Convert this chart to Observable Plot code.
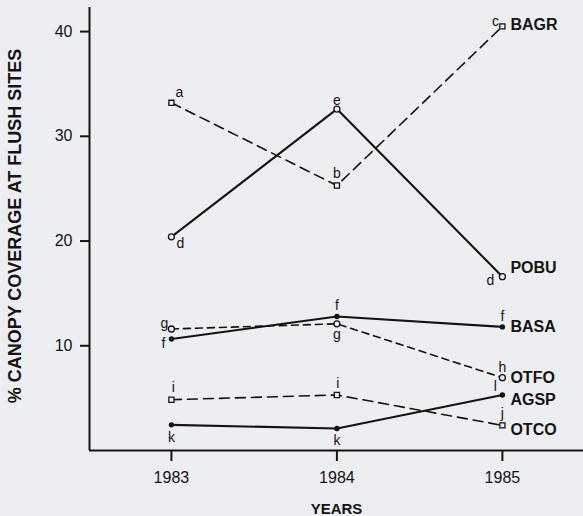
<!DOCTYPE html>
<html><head><meta charset="utf-8">
<script src="https://cdn.jsdelivr.net/npm/d3@7"></script>
<script src="https://cdn.jsdelivr.net/npm/@observablehq/plot@0.6"></script>
<style>html,body{margin:0;padding:0;background:#edeef2;} svg{display:block}</style>
</head><body><div id="chart"></div>
<script>
// ---- data ----
const years = [1983, 1984, 1985];
const BAGR = [33.2, 25.3, 40.5];
const POBU = [20.4, 32.6, 16.6];
const BASA = [10.65, 12.8, 11.8];
const OTFO = [11.6, 12.1, 6.95];
const OTCO = [4.85, 5.3, 2.4];
const AGSP = [2.45, 2.1, 5.3];
const lettersBAGR = ["a", "b", "c"];
const lettersPOBU = ["d", "e", "d"];
const lettersBASA = ["f", "f", "f"];
const lettersOTFO = ["g", "g", "h"];
const lettersOTCO = ["i", "i", "j"];
const lettersAGSP = ["k", "k", "l"];
const seriesNames = ["BAGR", "POBU", "BASA", "OTFO", "OTCO", "AGSP"];
const yTicks = [10, 20, 30, 40];
const yTitle = "% CANOPY COVERAGE AT FLUSH SITES";
const xTitle = "YEARS";

const seriesValues = [BAGR, POBU, BASA, OTFO, OTCO, AGSP];
const seriesLetters = [lettersBAGR, lettersPOBU, lettersBASA, lettersOTFO, lettersOTCO, lettersAGSP];

// ---- styles ----
const bg = "#edeef2";
const ink = "#141414";
const font = "'Liberation Sans', Arial, Helvetica, sans-serif";
const seriesStyle = {
  BAGR: {dash: "10,6", marker: "square", width: 1.6},
  POBU: {dash: null, marker: "open", width: 2.1},
  BASA: {dash: null, marker: "filled", width: 2.1},
  OTFO: {dash: "7,5", marker: "open", width: 1.6},
  OTCO: {dash: "10,6", marker: "square", width: 1.6},
  AGSP: {dash: null, marker: "filled", width: 2.1}
};
const letterOffsets = {
  BAGR: [[8, -10], [0, -12], [-7, -5]],
  POBU: [[9, 7], [0, -9], [-12, 4]],
  BASA: [[-8, 5], [0, -11], [0, -10]],
  OTFO: [[-7, -5], [0, 11], [0, -10]],
  OTCO: [[2, -12], [1, -11], [0, -12]],
  AGSP: [[0, 13], [0, 12], [-7, -8]]
};
const nameDy = {BAGR: -1, POBU: -9, BASA: 0, OTFO: 0, AGSP: 5, OTCO: 5};

const rows = [];
seriesNames.forEach((s, i) => years.forEach((yr, j) =>
  rows.push({series: s, year: yr, value: seriesValues[i][j], letter: seriesLetters[i][j], off: letterOffsets[s][j]})));

const marks = [];
// frame lines
marks.push(Plot.ruleY([0], {stroke: ink, strokeWidth: 2}));
marks.push(Plot.ruleX([1982.505], {stroke: ink, strokeWidth: 2}));
// axes
marks.push(Plot.axisY({ticks: yTicks, tickSize: 9, tickPadding: 8, fontSize: 16, stroke: ink, strokeWidth: 2, fill: ink, label: null}));
marks.push(Plot.axisX({ticks: years, tickFormat: d => String(d), tickSize: 11, tickPadding: 10, fontSize: 16, stroke: ink, strokeWidth: 2, fill: ink, label: null}));
// titles
marks.push(Plot.text([yTitle], {frameAnchor: "left", textAnchor: "middle", rotate: -90, dx: -74, dy: -3, fontSize: 18, fontWeight: "bold", fill: ink}));
marks.push(Plot.text([xTitle], {frameAnchor: "bottom", dy: 63, fontSize: 15, fontWeight: "bold", fill: ink}));

seriesNames.forEach(s => {
  const st = seriesStyle[s];
  const data = rows.filter(r => r.series === s);
  marks.push(Plot.line(data, {x: "year", y: "value", stroke: ink, strokeWidth: st.width, strokeDasharray: st.dash}));
  if (st.marker === "square") marks.push(Plot.dot(data, {x: "year", y: "value", symbol: "square", r: 2.9, fill: bg, stroke: ink, strokeWidth: 1.3}));
  else if (st.marker === "open") marks.push(Plot.dot(data, {x: "year", y: "value", r: 3, fill: bg, stroke: ink, strokeWidth: 1.3}));
  else marks.push(Plot.dot(data, {x: "year", y: "value", r: 2.7, fill: ink}));
  data.forEach(r => marks.push(Plot.text([r], {x: "year", y: "value", text: "letter", dx: r.off[0], dy: r.off[1], fontSize: 14, fill: ink})));
  const last = data[data.length - 1];
  marks.push(Plot.text([last], {x: "year", y: "value", text: d => s, dx: 8, dy: nameDy[s], textAnchor: "start", fontSize: 16, fontWeight: "bold", fill: ink}));
});

const chart = Plot.plot({
  width: 583, height: 516,
  marginLeft: 89, marginRight: 0, marginTop: 7, marginBottom: 66,
  x: {domain: [1982.505, 1985.49]},
  y: {domain: [0, 42.3]},
  style: {background: bg, fontFamily: font, color: ink},
  marks
});
document.getElementById("chart").appendChild(chart);
</script></body></html>
